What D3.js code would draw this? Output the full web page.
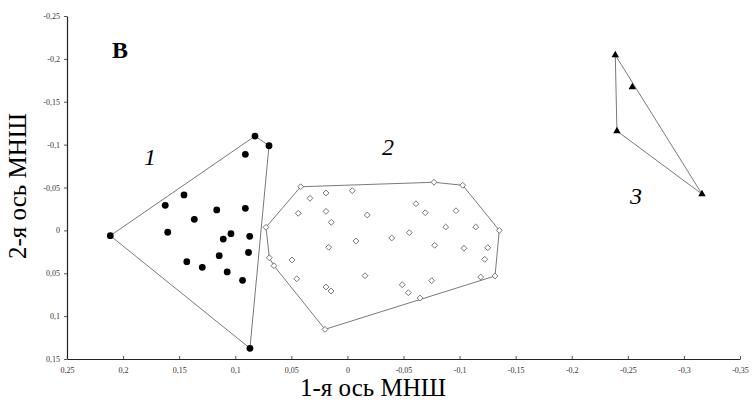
<!DOCTYPE html>
<html>
<head>
<meta charset="utf-8">
<script src="https://cdn.jsdelivr.net/npm/d3@7"></script>
<style>
  html, body { margin: 0; padding: 0; background: #fff; }
  svg { display: block; }
  text { font-family: "Liberation Serif", "Times New Roman", serif; }
</style>
</head>
<body>
<script>
// ---- Data ----
const xTicks = [0.25, 0.2, 0.15, 0.1, 0.05, 0, -0.05, -0.1, -0.15, -0.2, -0.25, -0.3, -0.35];
const yTicks = [-0.25, -0.2, -0.15, -0.1, -0.05, 0, 0.05, 0.1, 0.15];

// group 1: filled circles
const group1X = [0.0824, 0.0699, 0.0910, 0.1457, 0.1624, 0.1165, 0.0910, 0.1365, 0.2114, 0.1602,
                 0.1038, 0.1107, 0.0871, 0.0882, 0.1143, 0.1432, 0.1294, 0.1072, 0.0935, 0.0869];
const group1Y = [-0.1100, -0.0987, -0.0887, -0.0413, -0.0292, -0.0238, -0.0257, -0.0129, 0.0062, 0.0022,
                 0.0039, 0.0101, 0.0069, 0.0258, 0.0295, 0.0365, 0.0431, 0.0485, 0.0582, 0.1375];

// group 2: open diamonds
const group2X = [0.0417, -0.0772, -0.1028, 0.0334, 0.0191, -0.0043, -0.0611, -0.0694, -0.0968, 0.0438,
                 0.0191, -0.0177, 0.0144, -0.0876, -0.1144, 0.0726, -0.1354, -0.0552, -0.0395, -0.0076,
                 0.0167, -0.0778, -0.1039, -0.1251, -0.1224, 0.0696, 0.0655, 0.0494, 0.0452, -0.0157,
                 0.0191, 0.0146, -0.0489, -0.0751, -0.0543, -0.0647, -0.1188, -0.1316, 0.0200];
const group2Y = [-0.0509, -0.0561, -0.0526, -0.0374, -0.0436, -0.0463, -0.0311, -0.0206, -0.0229, -0.0199,
                 -0.0222, -0.0179, -0.0094, -0.0039, -0.0039, -0.0036, 0.0000, 0.0027, 0.0089, 0.0124,
                 0.0197, 0.0174, 0.0209, 0.0202, 0.0337, 0.0319, 0.0412, 0.0345, 0.0564, 0.0529,
                 0.0660, 0.0707, 0.0634, 0.0587, 0.0727, 0.0789, 0.0544, 0.0532, 0.1154];

// group 3: filled triangles
const group3X = [-0.2388, -0.2540, -0.2403, -0.3161];
const group3Y = [-0.2045, -0.1672, -0.1159, -0.0424];

const groupLabels = ["1", "2", "3"];
const groupLabelX = [0.1760, -0.0362, -0.2573];
const groupLabelY = [-0.0760, -0.0880, -0.0310];

const panelLabel = "В";
const xTitle = "1-я ось МНШ";
const yTitle = "2-я ось МНШ";

// ---- Chart ----
const W = 752, H = 402;
const svg = d3.select("body").append("svg").attr("width", W).attr("height", H);

const x = d3.scaleLinear().domain([0.25, -0.35]).range([67, 740]);
const y = d3.scaleLinear().domain([-0.25, 0.15]).range([16, 359]);

const loc = d3.formatLocale({decimal: ",", thousands: " ", grouping: [3], currency: ["", ""], minus: "-"});
const fmt = loc.format("");

// axes
const xAxis = svg.append("g").attr("transform", `translate(0,${y(0.15)})`)
  .call(d3.axisBottom(x).tickValues(xTicks).tickFormat(fmt).tickSizeInner(-3).tickSizeOuter(0).tickPadding(8));
const yAxis = svg.append("g").attr("transform", `translate(${x(0.25)},0)`)
  .call(d3.axisLeft(y).tickValues(yTicks).tickFormat(fmt).tickSizeInner(3).tickSizeOuter(0).tickPadding(4));
[xAxis, yAxis].forEach(a => {
  a.select(".domain").attr("stroke", "#222").attr("stroke-width", 1.2);
  a.selectAll(".tick line").attr("stroke", "#555");
  a.selectAll(".tick text").attr("font-size", 8).attr("fill", "#333")
    .attr("font-family", "\"Liberation Serif\", serif");
});

// hulls
function hull(xs, ys) {
  const pts = xs.map((v, i) => [x(v), y(ys[i])]);
  return d3.polygonHull(pts);
}
const lineGen = d3.line().curve(d3.curveLinearClosed);
[[group1X, group1Y], [group2X, group2Y], [group3X, group3Y]].forEach(([xs, ys]) => {
  svg.append("path").attr("d", lineGen(hull(xs, ys)))
    .attr("fill", "none").attr("stroke", "#7a7a7a").attr("stroke-width", 1);
});

// group 1 markers
svg.append("g").selectAll("circle").data(group1X).join("circle")
  .attr("cx", d => x(d)).attr("cy", (d, i) => y(group1Y[i])).attr("r", 3.4).attr("fill", "#000");

// group 2 markers
const diamond = d3.symbol().type(d3.symbolDiamond2).size(22);
svg.append("g").selectAll("path").data(group2X).join("path")
  .attr("d", diamond)
  .attr("transform", (d, i) => `translate(${x(d)},${y(group2Y[i])})`)
  .attr("fill", "#fff").attr("stroke", "#666").attr("stroke-width", 0.9);

// group 3 markers
const tri = d3.symbol().type(d3.symbolTriangle).size(24);
svg.append("g").selectAll("path").data(group3X).join("path")
  .attr("d", tri)
  .attr("transform", (d, i) => `translate(${x(d)},${y(group3Y[i])})`)
  .attr("fill", "#000");

// group labels
svg.append("g").selectAll("text").data(groupLabels).join("text")
  .attr("x", (d, i) => x(groupLabelX[i])).attr("y", (d, i) => y(groupLabelY[i]))
  .attr("text-anchor", "middle").attr("font-size", 24).attr("font-style", "italic")
  .text(d => d);

// panel label
svg.append("text").attr("x", 112).attr("y", 58).attr("font-size", 24).attr("font-weight", "bold")
  .text(panelLabel);

// axis titles
svg.append("text").attr("x", 373).attr("y", 396).attr("text-anchor", "middle")
  .attr("font-size", 25).text(xTitle);
svg.append("text").attr("transform", "translate(26,186) rotate(-90)").attr("text-anchor", "middle")
  .attr("font-size", 25).text(yTitle);
</script>
</body>
</html>
